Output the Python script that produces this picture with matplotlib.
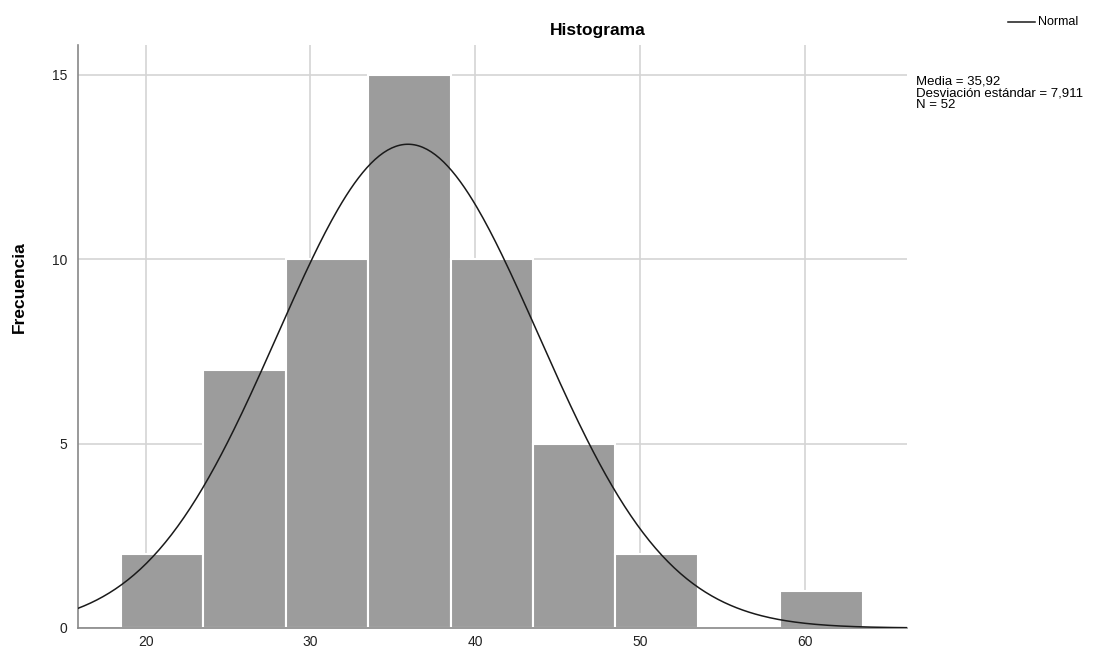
import numpy as np
import matplotlib.pyplot as plt

plt.rcParams['font.family'] = ['Liberation Sans', 'DejaVu Sans']

# histogram data (bins of width 5)
bin_edges = [18.5, 23.5, 28.5, 33.5, 38.5, 43.5, 48.5, 53.5, 58.5, 63.5]
counts = [2, 7, 10, 15, 10, 5, 2, 0, 1]
x_ticks = [20, 30, 40, 50, 60]
y_ticks = [0, 5, 10, 15]

mean = 35.92
std = 7.911
n = 52


def main():
    fig = plt.figure(figsize=(11.18, 6.53), dpi=100)
    ax = fig.add_axes([0.0698, 0.0383, 0.7415, 0.8927])

    ax.set_xlim(15.9, 66.2)
    ax.set_ylim(0, 15.8)

    ax.grid(True, color='#d4d4d4', lw=1.2)
    ax.set_axisbelow(True)

    lefts = np.array(bin_edges[:-1])
    widths = np.diff(bin_edges)
    ax.bar(lefts, counts, width=widths, align='edge',
           color='#9c9c9c', edgecolor='white', lw=1.5, zorder=2)

    # normal curve scaled to counts
    xs = np.linspace(15.9, 66.2, 400)
    bw = widths[0]
    ys = n * bw / (std * np.sqrt(2 * np.pi)) * np.exp(-0.5 * ((xs - mean) / std) ** 2)
    ax.plot(xs, ys, color='#1a1a1a', lw=1.1, zorder=3)

    ax.set_xticks(x_ticks)
    ax.set_yticks(y_ticks)
    ax.tick_params(length=0, labelsize=10, colors='#222222')
    ax.tick_params(axis='x', pad=5)
    ax.tick_params(axis='y', pad=8)
    for side in ('top', 'right'):
        ax.spines[side].set_visible(False)
    for side in ('left', 'bottom'):
        ax.spines[side].set_color('#888888')
        ax.spines[side].set_linewidth(1.2)

    fig.text(0.535, 0.953, 'Histograma', ha='center', va='center',
             fontsize=12.5, fontweight='bold')
    fig.text(0.017, 0.56, 'Frecuencia', ha='center', va='center',
             rotation=90, fontsize=12.5, fontweight='bold')

    # legend line
    fig.add_artist(plt.Line2D([1008 / 1118, 1035 / 1118], [1 - 22 / 653, 1 - 22 / 653],
                              color='#1a1a1a', lw=1.1))
    fig.text(1038 / 1118, 1 - 22 / 653, 'Normal', ha='left', va='center', fontsize=9)

    stats = 'Media = %s\nDesviación estándar = %s\nN = %d' % (
        ('%.2f' % mean).replace('.', ','), ('%.3f' % std).replace('.', ','), n)
    fig.text(916 / 1118, 1 - 76 / 653, stats, ha='left', va='top',
             fontsize=9.5, linespacing=0.95)

    fig.savefig('out.png', dpi=100)


if __name__ == '__main__':
    main()
